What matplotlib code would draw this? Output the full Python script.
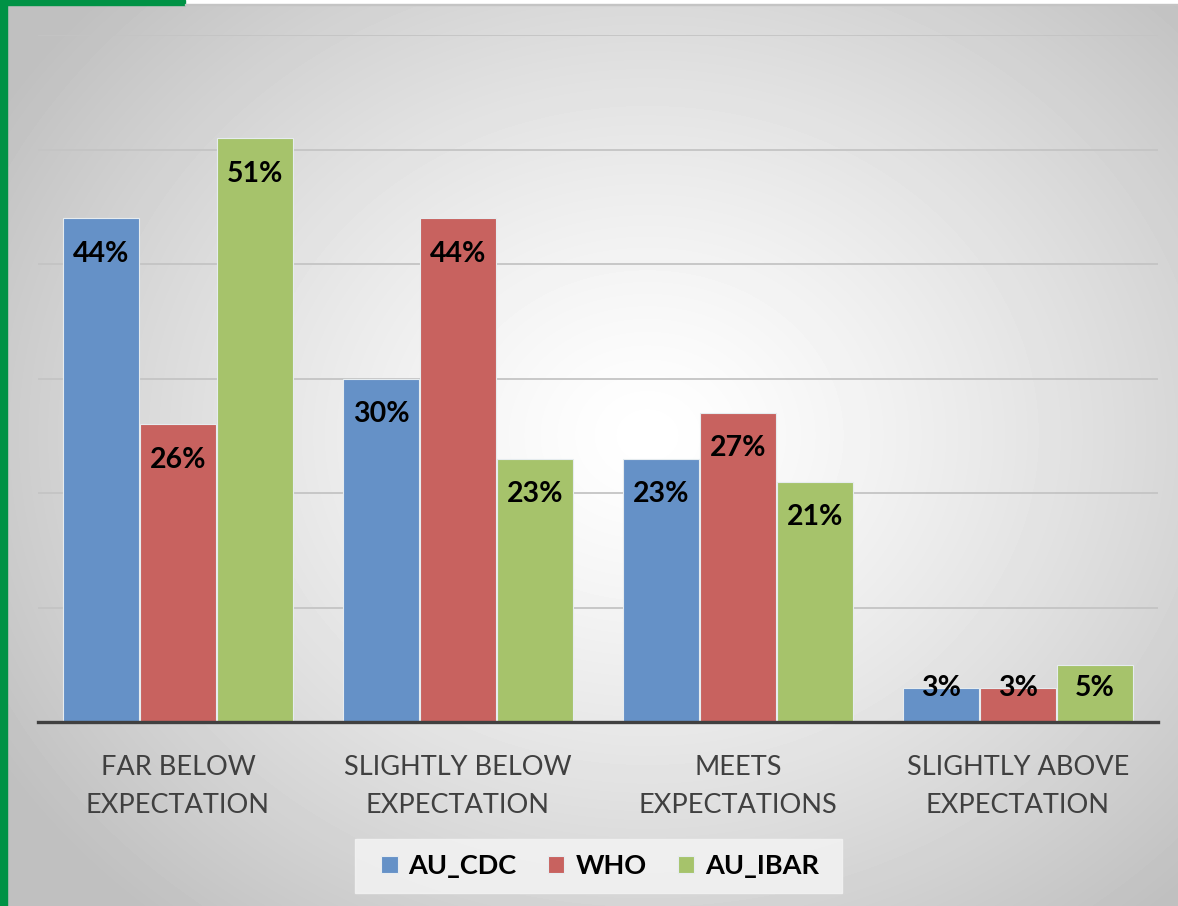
import matplotlib.pyplot as plt
import numpy as np

# Survey results by rating category
categories = ['FAR BELOW\nEXPECTATION', 'SLIGHTLY BELOW\nEXPECTATION',
              'MEETS\nEXPECTATIONS', 'SLIGHTLY ABOVE\nEXPECTATION']
series = ['AU_CDC', 'WHO', 'AU_IBAR']
au_cdc = [44, 30, 23, 3]
who = [26, 44, 27, 3]
au_ibar = [51, 23, 21, 5]

colors = ['#6591C7', '#C8625F', '#A6C36B']
W, H = 1178, 906

plt.rcParams['font.family'] = ['Lato', 'DejaVu Sans']

fig = plt.figure(figsize=(W / 100, H / 100), dpi=100)
fig.patch.set_facecolor('white')

# soft radial background panel
bg = fig.add_axes([7 / W, 0, 1 - 7 / W, (H - 5) / H])
yy, xx = np.mgrid[0:H - 5, 0:W - 7]
r = np.sqrt(((xx - 640) / 760) ** 2 + ((yy - 430) / 640) ** 2)
shade = 1.0 - 0.25 * np.clip(r, 0, 1) ** 1.3
bg.imshow(shade, cmap='gray', vmin=0, vmax=1, aspect='auto',
          extent=[0, 1, 0, 1], interpolation='bilinear')
bg.axis('off')

# green frame strips
fig.add_artist(plt.Rectangle((0, 0), 7 / W, 1, color='#009245',
                             transform=fig.transFigure, zorder=5))
fig.add_artist(plt.Rectangle((0, 1 - 5 / H), 185 / W, 5 / H, color='#009245',
                             transform=fig.transFigure, zorder=5))
fig.add_artist(plt.Rectangle((185 / W, 1 - 5 / H), 1, 1.2 / H, color='#c4c4c4',
                             transform=fig.transFigure, zorder=5))

ax = fig.add_axes([38 / W, (H - 722) / H, 1120 / W, 687 / H])
ax.set_facecolor('none')

x = np.arange(len(categories))
step = 0.2745
width = 0.271
for i, (vals, name) in enumerate(zip([au_cdc, who, au_ibar], series)):
    pos = x + (i - 1) * step
    ax.bar(pos, vals, width=width, color=colors[i], edgecolor='#e6ecef',
           linewidth=0.8, label=name, zorder=3)
    for px, v in zip(pos, vals):
        ax.text(px, max(v - 3.1, 2.95), f'{v}%', ha='center', va='center',
                fontsize=20.5, fontweight='bold', color='black', zorder=4)

ax.set_xlim(-0.5, 3.5)
ax.set_ylim(0, 60)
ax.set_yticks(range(10, 61, 10))
ax.yaxis.grid(True, color='#c4c4c4', linewidth=1.3, zorder=0)
ax.tick_params(left=False, labelleft=False, bottom=False, labelbottom=False)
for s in ax.spines.values():
    s.set_visible(False)
ax.axhline(0, color='#404040', linewidth=2.4, zorder=5, clip_on=False)

for xi, cat in zip(x, categories):
    ax.text(xi, -2.85, cat, ha='center', va='top', fontsize=19.5,
            color='#404040', linespacing=1.68)

# legend panel
fig.add_artist(plt.Rectangle((355 / W, 1 - 893 / H), 487 / W, 54 / H,
                             color='#f3f3f3', alpha=0.85,
                             transform=fig.transFigure, zorder=1))
leg = fig.legend(loc='center', bbox_to_anchor=(600 / W, 1 - 866 / H), ncol=3,
                 frameon=False, handlelength=0.62, handleheight=0.62,
                 handletextpad=0.4, columnspacing=1.15,
                 prop={'weight': 'bold', 'size': 19.5})

fig.savefig('out.png', dpi=100)
